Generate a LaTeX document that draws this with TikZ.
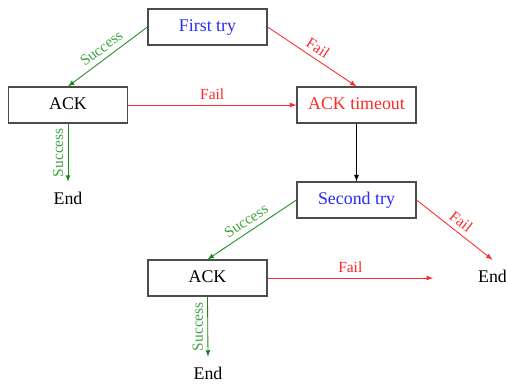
\documentclass[tikz,border=0pt]{standalone}
\usepackage{fontspec}
\setmainfont{Liberation Serif}
\usepackage{tikz}

\definecolor{tryblue}{RGB}{40,40,255}
\definecolor{failred}{RGB}{255,40,40}
\definecolor{okgreen}{RGB}{20,140,20}

\begin{document}
\begin{tikzpicture}[x=0.025cm,y=-0.025cm,
  box/.style={draw=black!70,line width=0.8pt,minimum width=2.975cm,minimum height=0.9cm,
    inner sep=0pt,text height=1.6ex,text depth=0.35ex,font=\fontsize{12.7}{15}\selectfont},
  endnode/.style={minimum height=0.9cm,inner sep=0pt,text height=1.6ex,text depth=0.35ex,
    font=\fontsize{12.7}{15}\selectfont},
  lbl/.style={font=\fontsize{11}{13}\selectfont,midway,sloped,above,inner sep=3.5pt},
  vlbl/.style={font=\fontsize{11}{13}\selectfont,midway,rotate=90,anchor=south,inner sep=3pt},
  ok/.style={draw=okgreen,line width=0.6pt,-latex},
  fail/.style={draw=failred,line width=0.6pt,-latex}]
\useasboundingbox (0,0) rectangle (506,383);

\node[box,text=tryblue] (first) at (207.5,27) {First try};
\node[box] (ack1) at (68,105) {ACK};
\node[box,text=failred] (timeout) at (356.5,105) {ACK timeout};
\node[endnode] (end1) at (68,200) {End};
\node[box,text=tryblue] (second) at (356.5,200) {Second try};
\node[box] (ack2) at (207.5,278) {ACK};
\node[endnode] (end2) at (492.5,278) {End};
\node[endnode] (end3) at (208,375) {End};
\coordinate (failend) at (433,278);

\draw[ok] (first.west) -- (ack1.north) node[lbl,text=okgreen!80] {Success};
\draw[fail] (first.east) -- (timeout.north) node[lbl,text=failred] {Fail};
\draw[fail] (ack1.east) -- (timeout.west) node[lbl,text=failred] {Fail};
\draw[ok] (ack1.south) -- (end1.north) node[vlbl,text=okgreen!80] {Success};
\draw[line width=0.6pt,-latex] (timeout.south) -- (second.north);

\draw[ok] (second.west) -- (ack2.north) node[lbl,text=okgreen!80] {Success};
\draw[fail] (second.east) -- (end2.north) node[lbl,text=failred] {Fail};
\draw[fail] (ack2.east) -- (failend) node[lbl,text=failred] {Fail};
\draw[ok] (ack2.south) -- (end3.north) node[vlbl,text=okgreen!80] {Success};

\end{tikzpicture}
\end{document}
